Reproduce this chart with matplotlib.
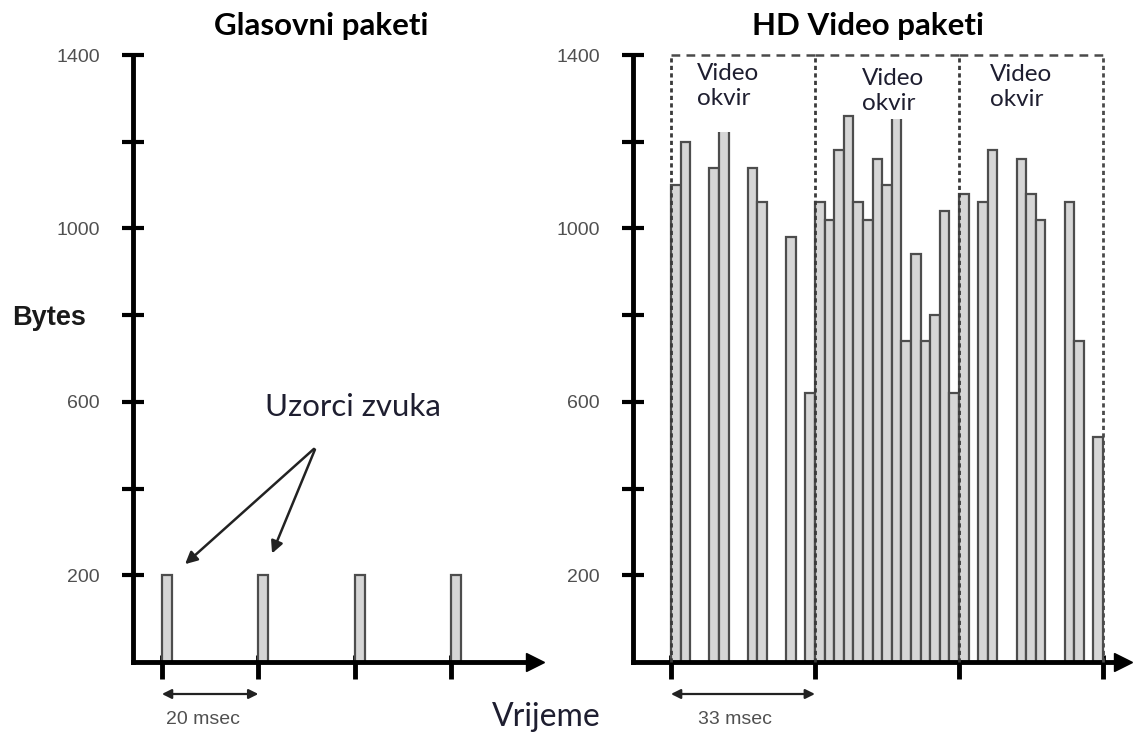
import matplotlib
matplotlib.use('Agg')
import matplotlib.pyplot as plt
from matplotlib.patches import Rectangle

# ---------------- data ----------------
voice_times = [0, 20, 40, 60]          # ms
voice_bytes = [200, 200, 200, 200]
voice_ticks = [0, 20, 40, 60]

frame_ms = 33
slot_ms = 2.2                           # one packet slot
frame_starts = [0, 33, 66]
frame1_slots = [0, 1, 4, 5, 8, 9, 12, 14]
frame1_bytes = [1100, 1200, 1140, 1300, 1140, 1060, 980, 620]
frame2_slots = [0, 1, 2, 3, 4, 5, 6, 7, 8, 9, 10, 11, 12, 13, 14]
frame2_bytes = [1060, 1020, 1180, 1260, 1060, 1020, 1160, 1100, 1300, 740, 940, 740, 800, 1040, 620]
frame3_slots = [0, 2, 3, 6, 7, 8, 11, 12, 14]
frame3_bytes = [1080, 1060, 1180, 1160, 1080, 1020, 1060, 740, 520]
video_ticks = [0, 33, 66, 99]

y_major = [200, 600, 1000, 1400]
y_minor = [400, 800, 1200]

W, H = 1133, 734
fig = plt.figure(figsize=(W / 100, H / 100), dpi=100)


def fx(px):
    return px / W


def fy(py):
    return 1 - py / H


SANS = ['Liberation Sans', 'DejaVu Sans']
CAL = ['Lato', 'DejaVu Sans']

bar_face = '#d6d6d6'
bar_edge = '#4d4d4d'


def setup(ax, xticks):
    ax.set_ylim(0, 1400)
    for s in ['top', 'right']:
        ax.spines[s].set_visible(False)
    for s in ['left', 'bottom']:
        ax.spines[s].set_linewidth(3.5)
        ax.spines[s].set_color('black')
    ax.set_yticks(y_major)
    ax.set_yticks(y_minor, minor=True)
    ax.set_yticklabels([str(v) for v in y_major], fontfamily=SANS)
    ax.tick_params(axis='y', which='both', direction='inout', length=16, width=3,
                   labelsize=14, labelcolor='#505050', pad=16, color='black')
    ax.xaxis.remove_overlapping_locs = False
    ax.set_xticks(xticks)
    ax.set_xticks(xticks, minor=True)
    ax.set_xticklabels([])
    ax.tick_params(axis='x', which='major', direction='out', length=12, width=3.5, color='black')
    ax.tick_params(axis='x', which='minor', direction='in', length=5, width=3.5, color='black')
    ax.plot(1, 0, '>', color='black', markersize=13, transform=ax.transAxes, clip_on=False, zorder=5)


# ---------------- left: voice ----------------
axL = fig.add_axes([fx(133), fy(662), (535 - 133) / W, (662 - 55) / H])
setup(axL, voice_ticks)
axL.set_xlim(-6.0, 77.4)
axL.bar(voice_times, voice_bytes, width=2.1, align='edge', color=bar_face,
        edgecolor=bar_edge, linewidth=1.6, zorder=2)

# ---------------- right: video ----------------
axR = fig.add_axes([fx(633), fy(662), (1123 - 633) / W, (662 - 55) / H])
setup(axR, video_ticks)
axR.set_xlim(-8.7, 103.6)
for start, slots, vals in zip(frame_starts, [frame1_slots, frame2_slots, frame3_slots],
                              [frame1_bytes, frame2_bytes, frame3_bytes]):
    xs = [start + s * slot_ms for s in slots]
    axR.bar(xs, vals, width=slot_ms, align='edge', color=bar_face,
            edgecolor=bar_edge, linewidth=1.6, zorder=2)

# white label backgrounds that hide the tallest bar tops
axR.add_patch(Rectangle((5.0, 1222), 16.0, 170, facecolor='white', edgecolor='none', zorder=3))
axR.add_patch(Rectangle((44.0, 1252), 14.0, 140, facecolor='white', edgecolor='none', zorder=3))

# dashed frame boxes
for start in frame_starts:
    axR.plot([start, start], [0, 1400], color='#3a3a3a', lw=2.0, ls=(0, (1.5, 1.2)),
             clip_on=False, zorder=4)
    axR.plot([start, start + frame_ms], [1400, 1400], color='#4a4a4a', lw=1.8,
             ls=(0, (3.5, 2.5)), clip_on=False, zorder=4)
axR.plot([99, 99], [0, 1400], color='#4a4a4a', lw=2.0, ls=(0, (1.5, 1.2)), clip_on=False, zorder=4)

# frame labels
for px, py in [(697, 63), (862, 68), (990, 64)]:
    fig.text(fx(px), fy(py), 'Video\nokvir', ha='left', va='top', fontsize=17.5,
             fontfamily=CAL, color='#1e1e30', linespacing=1.25, zorder=6)

# ---------------- texts ----------------
fig.text(fx(321), fy(26), 'Glasovni paketi', ha='center', va='center', fontsize=22.5,
         fontweight='bold', fontfamily=CAL, color='black')
fig.text(fx(868), fy(26), 'HD Video paketi', ha='center', va='center', fontsize=22.5,
         fontweight='bold', fontfamily=CAL, color='black')
fig.text(fx(12), fy(318), 'Bytes', ha='left', va='center', fontsize=19.5,
         fontweight='bold', fontfamily=SANS, color='#1a1a1a')
fig.text(fx(265), fy(407), 'Uzorci zvuka', ha='left', va='center', fontsize=22.5,
         fontfamily=CAL, color='#1e1e30')
fig.text(fx(492), fy(717), 'Vrijeme', ha='left', va='center', fontsize=23,
         fontfamily=CAL, color='#1e1e30')

# annotation arrows
for tx, ty in [(183, 566), (271, 556)]:
    fig.add_artist(matplotlib.patches.FancyArrowPatch(
        (fx(316), fy(447)), (fx(tx), fy(ty)), transform=fig.transFigure,
        arrowstyle='-|>', mutation_scale=18, lw=1.8, color='#222222'))

# period arrows
axL.annotate('', xy=(0, fy(694)), xytext=(20, fy(694)), xycoords=('data', 'figure fraction'),
             textcoords=('data', 'figure fraction'),
             arrowprops=dict(arrowstyle='<|-|>', lw=1.6, color='#222222', mutation_scale=14,
                             shrinkA=0, shrinkB=0), annotation_clip=False)
axR.annotate('', xy=(0, fy(694)), xytext=(33, fy(694)), xycoords=('data', 'figure fraction'),
             textcoords=('data', 'figure fraction'),
             arrowprops=dict(arrowstyle='<|-|>', lw=1.6, color='#222222', mutation_scale=14,
                             shrinkA=0, shrinkB=0), annotation_clip=False)
fig.text(fx(203), fy(719), '20 msec', ha='center', va='center', fontsize=14,
         fontfamily=SANS, color='#505050')
fig.text(fx(735), fy(719), '33 msec', ha='center', va='center', fontsize=14,
         fontfamily=SANS, color='#505050')

fig.savefig('out.png', dpi=100, facecolor='white')
